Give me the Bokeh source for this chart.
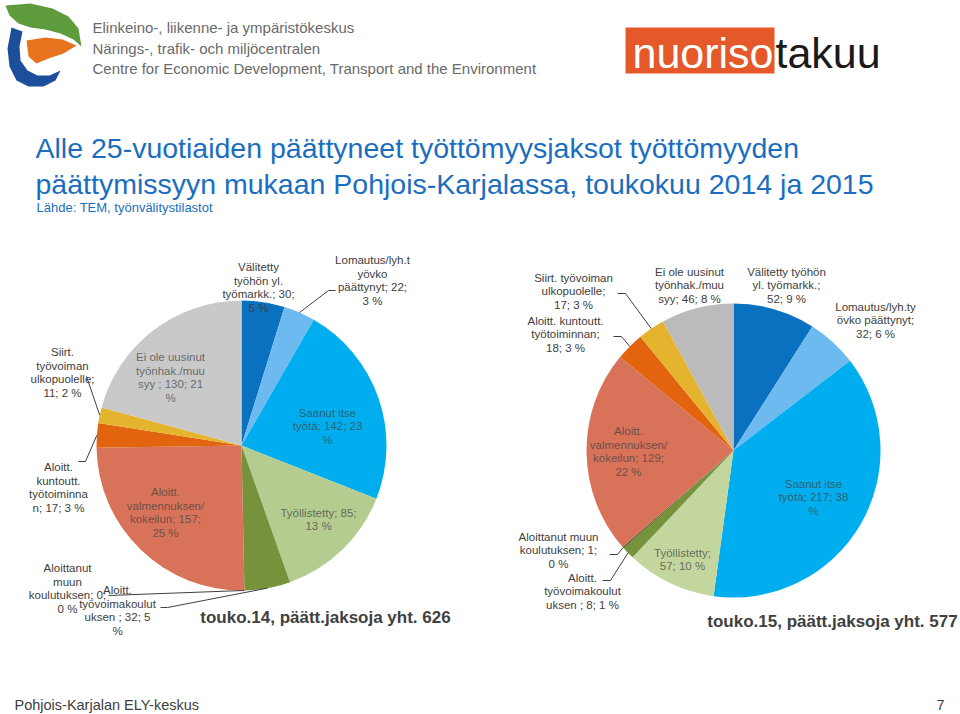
import math
from bokeh.plotting import figure
from bokeh.models import ColumnDataSource
from bokeh.embed import file_html
from bokeh.resources import INLINE
from bokeh.core.properties import value

W, H = 960, 714
FONT = value("Liberation Sans")

# ---------------- data ----------------
categories = [
    "Välitetty työhön yl. työmarkk.",
    "Lomautus/lyh.työvko päättynyt",
    "Saanut itse työtä",
    "Työllistetty",
    "Aloitt. työvoimakoulutuksen",
    "Aloittanut muun koulutuksen",
    "Aloitt. valmennuksen/kokeilun",
    "Aloitt. kuntoutt. työtoiminnan",
    "Siirt. työvoiman ulkopuolelle",
    "Ei ole uusinut työnhak./muu syy",
]
values_2014 = [30, 22, 142, 85, 32, 0, 157, 17, 11, 130]
percent_2014 = [5, 3, 23, 13, 5, 0, 25, 3, 2, 21]
values_2015 = [52, 32, 217, 57, 8, 1, 129, 18, 17, 46]
percent_2015 = [9, 6, 38, 10, 1, 0, 22, 3, 3, 8]
caption_2014 = "touko.14, päätt.jaksoja yht. 626"
caption_2015 = "touko.15, päätt.jaksoja yht. 577"

colors_2014 = ["#0A70C0", "#6DBAF0", "#00AEEF", "#B4CC8F", "#76933C", "#4F6228",
               "#D8735A", "#E2640F", "#E4B42E", "#C9C9C9"]
colors_2015 = ["#0A70C0", "#6DBAF0", "#00AEEF", "#C3D69E", "#76933C", "#4F6228",
               "#D8735A", "#E2640F", "#E4B42E", "#BBBBBD"]

labels_2014 = [
    "Välitetty\ntyöhön yl.\ntyömarkk.; {v};\n{p} %",
    "Lomautus/lyh.t\nyövko\npäättynyt; {v};\n{p} %",
    "Saanut itse\ntyötä; {v}; {p}\n%",
    "Työllistetty; {v};\n{p} %",
    "Aloitt.\ntyövoimakoulut\nuksen ; {v}; {p}\n%",
    "Aloittanut\nmuun\nkoulutuksen; {v};\n{p} %",
    "Aloitt.\nvalmennuksen/\nkokeilun; {v};\n{p} %",
    "Aloitt.\nkuntoutt.\ntyötoiminna\nn; {v}; {p} %",
    "Siirt.\ntyövoiman\nulkopuolelle;\n{v}; {p} %",
    "Ei ole uusinut\ntyönhak./muu\nsyy ; {v}; {p}\n%",
]
labels_2015 = [
    "Välitetty työhön\nyl. työmarkk.;\n{v}; {p} %",
    "Lomautus/lyh.ty\növko päättynyt;\n{v}; {p} %",
    "Saanut itse\ntyötä; {v}; {p}\n%",
    "Työllistetty;\n{v}; {p} %",
    "Aloitt.\ntyövoimakoulut\nuksen ; {v}; {p} %",
    "Aloittanut muun\nkoulutuksen; {v};\n{p} %",
    "Aloitt.\nvalmennuksen/\nkokeilun; {v};\n{p} %",
    "Aloitt. kuntoutt.\ntyötoiminnan;\n{v}; {p} %",
    "Siirt. työvoiman\nulkopuolelle;\n{v}; {p} %",
    "Ei ole uusinut\ntyönhak./muu\nsyy; {v}; {p} %",
]

# ---------------- layout (screen px, y downward) ----------------
pie_2014 = dict(cx=241, cy=445, r=145)
pie_2015 = dict(cx=733, cy=450, r=147)

label_pos_2014 = [(258, 287), (372, 280), (327, 426), (318, 519), (117, 610),
                  (67, 588), (165, 512), (58, 487), (62, 372), (170, 377)]
inside_2014 = [False, False, True, True, False, False, True, False, False, True]
label_pos_2015 = [(786, 285), (875, 320), (813, 497), (682, 559), (582, 591),
                  (558, 550), (628, 451), (565, 334), (573, 291), (689, 285)]
inside_2015 = [False, False, True, True, False, False, True, False, False, False]

# leader lines: category index -> starting points near label (elbow)
leaders_2014 = {8: [(86, 376)], 7: [(78, 461), (85, 461)], 5: [(108, 595)],
                4: [(160, 607), (167, 607)], 1: [(335, 290), (328, 290)]}
leaders_2015 = {8: [(617, 293), (625, 293)], 7: [(613, 336), (621, 336)],
                5: [(609, 554), (617, 554)], 4: [(602, 580), (610, 580)]}


def Y(py):
    return H - py


p = figure(width=W, height=H, x_range=(0, W), y_range=(0, H), min_border=0,
           toolbar_location=None, output_backend="svg",
           x_axis_location=None, y_axis_location=None)
p.grid.visible = False
p.outline_line_color = None
p.background_fill_color = "white"
p.border_fill_color = "white"


def draw_pie(vals, pcts, cols, pie, labels, lpos, inside, leaders):
    total = float(sum(vals))
    starts, ends = [], []
    cum = 0.0
    for v in vals:
        starts.append(math.pi / 2 - 2 * math.pi * cum / total)
        cum += v
        ends.append(math.pi / 2 - 2 * math.pi * cum / total)
    keep = [i for i, v in enumerate(vals) if v > 0]
    src = ColumnDataSource(dict(x=[pie["cx"]] * len(keep), y=[Y(pie["cy"])] * len(keep),
                                start=[starts[i] for i in keep], end=[ends[i] for i in keep],
                                color=[cols[i] for i in keep],
                                cat=[categories[i] for i in keep]))
    p.wedge(x="x", y="y", radius=pie["r"], start_angle="start", end_angle="end",
            direction="clock", fill_color="color", line_color=None, source=src)
    # leader lines
    for i, pts in leaders.items():
        mid = (starts[i] + ends[i]) / 2
        ex = pie["cx"] + pie["r"] * math.cos(mid)
        ey = Y(pie["cy"]) + pie["r"] * math.sin(mid)
        xs = [q[0] for q in pts] + [ex]
        ys = [Y(q[1]) for q in pts] + [ey]
        p.line(xs, ys, line_color="#404040", line_width=1)
    # labels
    for i, (tpl, (lx, ly), ins) in enumerate(zip(labels, lpos, inside)):
        txt = tpl.format(v=vals[i], p=pcts[i])
        p.text(x=[lx], y=[Y(ly)], text=[txt], text_font=FONT, text_font_size="11.5px",
               text_align="center", text_baseline="middle", text_line_height=1.15,
               text_color="#404040", text_alpha=0.72 if ins else 1.0)


draw_pie(values_2014, percent_2014, colors_2014, pie_2014, labels_2014,
         label_pos_2014, inside_2014, leaders_2014)
draw_pie(values_2015, percent_2015, colors_2015, pie_2015, labels_2015,
         label_pos_2015, inside_2015, leaders_2015)

# captions
p.text(x=[325], y=[Y(617)], text=[caption_2014], text_font=FONT, text_font_size="17px",
       text_font_style="bold", text_align="center", text_baseline="middle", text_color="#404040")
p.text(x=[832], y=[Y(621)], text=[caption_2015], text_font=FONT, text_font_size="17px",
       text_font_style="bold", text_align="center", text_baseline="middle", text_color="#404040")

# title
title_lines = ["Alle 25-vuotiaiden päättyneet työttömyysjaksot työttömyyden",
               "päättymissyyn mukaan Pohjois-Karjalassa, toukokuu 2014 ja 2015"]
source_note = "Lähde: TEM, työnvälitystilastot"
p.text(x=[35, 35], y=[Y(147), Y(183)], text=title_lines, text_font=FONT,
       text_font_size="28.5px", text_align="left", text_baseline="middle", text_color="#1B6EBF")
p.text(x=[36], y=[Y(207)], text=[source_note], text_font=FONT, text_font_size="13px",
       text_align="left", text_baseline="middle", text_color="#1B6EBF")

# ELY logo (approximate shapes)
green = [(5, 5), (30, 3), (52, 8), (68, 16), (78, 28), (81, 46), (73, 39), (60, 33),
         (45, 29), (30, 27), (18, 23), (9, 15)]
blue = [(11, 27), (22, 31), (19, 46), (20, 60), (27, 70), (37, 75), (49, 75), (60, 70),
        (55, 80), (43, 86), (28, 86), (16, 80), (9, 66), (7, 48)]
orange = [(26, 40), (45, 37), (62, 39), (76, 45), (63, 53), (48, 58), (36, 63), (28, 56)]
for shape, col in ((green, "#5E9B3C"), (blue, "#1C4E9C"), (orange, "#E8731E")):
    p.patch([q[0] for q in shape], [Y(q[1]) for q in shape], fill_color=col, line_color=None)
ely_lines = ["Elinkeino-, liikenne- ja ympäristökeskus",
             "Närings-, trafik- och miljöcentralen",
             "Centre for Economic Development, Transport and the Environment"]
p.text(x=[92, 92, 92], y=[Y(27), Y(48), Y(68)], text=ely_lines, text_font=FONT,
       text_font_size="15px", text_align="left", text_baseline="middle", text_color="#6A6A6A")

# nuorisotakuu logo
p.quad(left=[625], right=[774], top=[Y(27)], bottom=[Y(73)], fill_color="#E5582A", line_color=None)
p.text(x=[773], y=[Y(52)], text=["nuoriso"], text_font=FONT, text_font_size="43px",
       text_align="right", text_baseline="middle", text_color="white")
p.text(x=[775], y=[Y(52)], text=["takuu"], text_font=FONT, text_font_size="43px",
       text_align="left", text_baseline="middle", text_color="#1A1A1A")

# footer
p.text(x=[14], y=[Y(704)], text=["Pohjois-Karjalan ELY-keskus"], text_font=FONT,
       text_font_size="14.5px", text_align="left", text_baseline="middle", text_color="#404040")
p.text(x=[944], y=[Y(704)], text=["7"], text_font=FONT, text_font_size="14.5px",
       text_align="right", text_baseline="middle", text_color="#404040")

open("out.html", "w").write(file_html(p, INLINE))
